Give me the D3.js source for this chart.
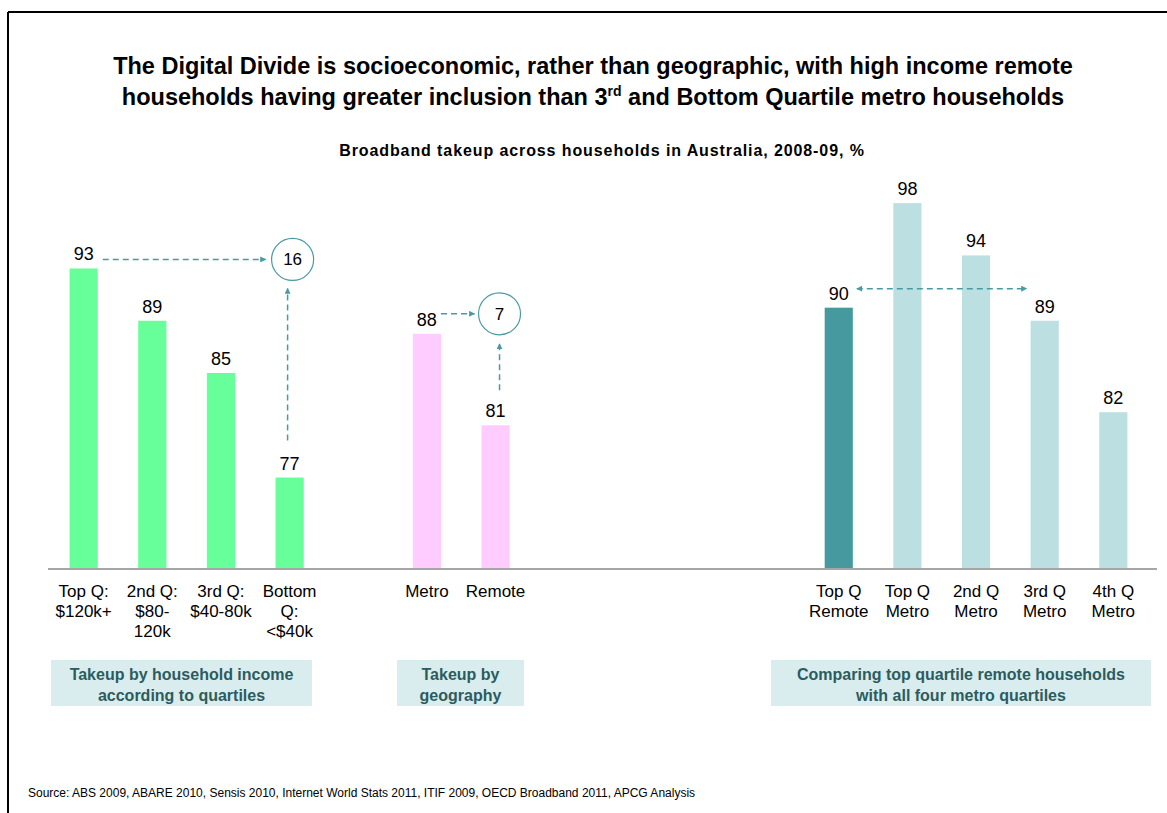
<!DOCTYPE html>
<html>
<head>
    <title>Digital Divide</title>
    <script src="https://cdn.jsdelivr.net/npm/d3@7"></script>
    <style>
        body { margin: 0; background: #fff; }
        text { font-family: Arial, "Liberation Sans", sans-serif; }
    </style>
</head>
<body>
    <svg width="1167" height="813" id="mainsvg"></svg>
    <script>
        // --- data ---
        const incomeCats = ['Top Q:|$120k+', '2nd Q:|$80-|120k', '3rd Q:|$40-80k', 'Bottom|Q:|<$40k'];
        const incomeVals = [93, 89, 85, 77];
        const geoCats = ['Metro', 'Remote'];
        const geoVals = [88, 81];
        const compareCats = ['Top Q|Remote', 'Top Q|Metro', '2nd Q|Metro', '3rd Q|Metro', '4th Q|Metro'];
        const compareVals = [90, 98, 94, 89, 82];
        const gapIncome = 16;   // 93 - 77
        const gapGeo = 7;       // 88 - 81
        const groupLabels = ['Takeup by household income|according to quartiles', 'Takeup by|geography', 'Comparing top quartile remote households|with all four metro quartiles'];

        const svg = d3.select('#mainsvg');
        const teal = '#4a9aa1';

        // frame
        svg.append('line').attr('x1', 8).attr('x2', 1167).attr('y1', 12).attr('y2', 12).attr('stroke', '#000').attr('stroke-width', 2);
        svg.append('line').attr('x1', 8).attr('x2', 8).attr('y1', 12).attr('y2', 813).attr('stroke', '#000').attr('stroke-width', 2);

        // titles
        const title = svg.append('text').attr('text-anchor', 'middle').attr('font-weight', 'bold').attr('font-size', 23.5);
        title.append('tspan').attr('x', 593).attr('y', 74).text('The Digital Divide is socioeconomic, rather than geographic, with high income remote');
        const t2 = title.append('tspan').attr('x', 593).attr('y', 105);
        t2.append('tspan').text('households having greater inclusion than 3');
        t2.append('tspan').attr('font-size', 14).attr('dy', -9).text('rd');
        t2.append('tspan').attr('dy', 9).text(' and Bottom Quartile metro households');

        svg.append('text').attr('x', 602).attr('y', 156).attr('text-anchor', 'middle')
            .attr('font-weight', 'bold').attr('font-size', 16).attr('letter-spacing', 0.9)
            .text('Broadband takeup across households in Australia, 2008-09, %');

        // --- scales ---
        const domain = [...incomeCats, 'gap-a', ...geoCats, 'gap-b', 'gap-c', 'gap-d', 'gap-e', ...compareCats];
        const x = d3.scaleBand().domain(domain).range([49, 1148]).paddingInner(0.59).paddingOuter(0.3);
        const y = d3.scaleLinear().domain([70, 100]).range([569, 177]);

        const series = [
            { cats: incomeCats, vals: incomeVals, color: () => '#66ff99' },
            { cats: geoCats, vals: geoVals, color: () => '#ffccff' },
            { cats: compareCats, vals: compareVals, color: (i) => i === 0 ? '#46999f' : '#bcdfe2' }
        ];

        const g = svg.append('g');
        series.forEach(s => {
            const rows = s.cats.map((c, i) => ({ c, v: s.vals[i], i }));
            g.selectAll(null).data(rows).enter().append('rect')
                .attr('x', d => x(d.c)).attr('y', d => y(d.v))
                .attr('width', x.bandwidth()).attr('height', d => y(70) - y(d.v))
                .attr('fill', d => s.color(d.i));
            g.selectAll(null).data(rows).enter().append('text')
                .attr('x', d => x(d.c) + x.bandwidth() / 2).attr('y', d => y(d.v) - 8)
                .attr('text-anchor', 'middle').attr('font-size', 18).text(d => d.v);
            // category labels
            const lab = g.selectAll(null).data(rows).enter().append('text')
                .attr('text-anchor', 'middle').attr('font-size', 17);
            lab.each(function (d) {
                const el = d3.select(this);
                d.c.split('|').forEach((line, k) => {
                    el.append('tspan').attr('x', x(d.c) + x.bandwidth() / 2).attr('y', 597 + k * 20).text(line);
                });
            });
        });

        // baseline
        svg.append('line').attr('x1', 48).attr('x2', 1157).attr('y1', y(70)).attr('y2', y(70))
            .attr('stroke', '#a6a6a6').attr('stroke-width', 2);

        // arrowheads
        const defs = svg.append('defs');
        defs.append('marker').attr('id', 'arr').attr('viewBox', '0 0 10 10').attr('refX', 9).attr('refY', 5)
            .attr('markerWidth', 4).attr('markerHeight', 4).attr('orient', 'auto-start-reverse')
            .append('path').attr('d', 'M0,0 L10,5 L0,10 z').attr('fill', teal);

        const dashed = (x1, y1, x2, y2, both) => {
            const l = svg.append('line').attr('x1', x1).attr('y1', y1).attr('x2', x2).attr('y2', y2)
                .attr('stroke', teal).attr('stroke-width', 1.5).attr('stroke-dasharray', '6,4')
                .attr('marker-end', 'url(#arr)');
            if (both) l.attr('marker-start', 'url(#arr)');
        };
        const circle = (cx, cy, v) => {
            svg.append('circle').attr('cx', cx).attr('cy', cy).attr('r', 21)
                .attr('fill', '#fff').attr('stroke', teal).attr('stroke-width', 1.2);
            svg.append('text').attr('x', cx).attr('y', cy + 6).attr('text-anchor', 'middle').attr('font-size', 17).text(v);
        };

        // income gap
        const c16x = x(incomeCats[3]) + x.bandwidth() / 2 + 3;
        const c16y = y(incomeVals[0]) - 9;
        dashed(x(incomeCats[0]) + x.bandwidth() + 5, c16y, c16x - 27, c16y);
        dashed(c16x - 5, y(incomeVals[3]) - 37, c16x - 5, c16y + 29);
        circle(c16x, c16y, gapIncome);

        // geo gap
        const c7x = x(geoCats[1]) + x.bandwidth() / 2 + 4;
        const c7y = y(geoVals[0]) - 20;
        dashed(x(geoCats[0]) + x.bandwidth() + 0, c7y, c7x - 25, c7y);
        dashed(c7x, y(geoVals[1]) - 35, c7x, c7y + 30);
        circle(c7x, c7y, gapGeo);

        // compare double arrow
        const cy3 = y(compareVals[0]) - 19;
        dashed(x(compareCats[0]) + x.bandwidth() + 4, cy3, x(compareCats[3]) - 4, cy3, true);

        // group label boxes
        const boxes = [
            { x0: 51, x1: 312, label: groupLabels[0] },
            { x0: 397, x1: 524, label: groupLabels[1] },
            { x0: 771, x1: 1151, label: groupLabels[2] }
        ];
        boxes.forEach(b => {
            svg.append('rect').attr('x', b.x0).attr('y', 660).attr('width', b.x1 - b.x0).attr('height', 46).attr('fill', '#daedee');
            const t = svg.append('text').attr('text-anchor', 'middle').attr('font-weight', 'bold')
                .attr('font-size', 16).attr('fill', '#2c5c5e');
            b.label.split('|').forEach((line, k) => {
                t.append('tspan').attr('x', (b.x0 + b.x1) / 2).attr('y', 680 + k * 21).text(line);
            });
        });

        svg.append('text').attr('x', 28).attr('y', 797).attr('font-size', 12)
            .text('Source: ABS 2009, ABARE 2010, Sensis 2010, Internet World Stats 2011, ITIF 2009, OECD Broadband 2011, APCG Analysis');
    </script>
</body>
</html>
